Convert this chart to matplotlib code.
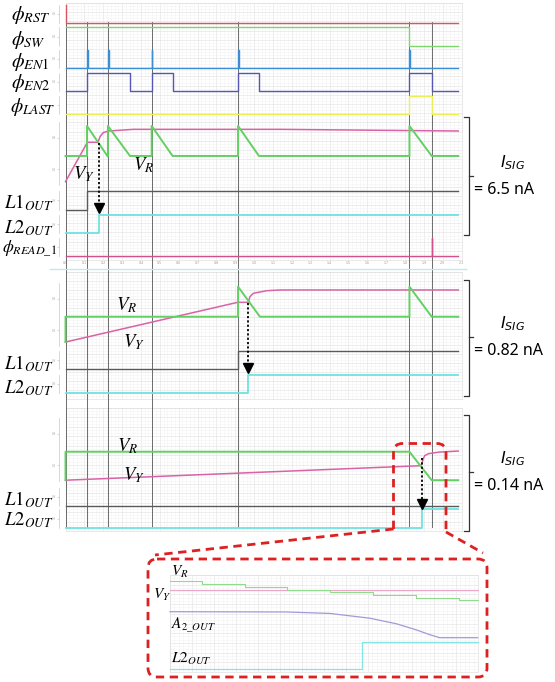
import numpy as np
import matplotlib
matplotlib.use("Agg")
import matplotlib.pyplot as plt
from matplotlib.patches import FancyBboxPatch, PathPatch
from matplotlib.path import Path

plt.rcParams['mathtext.fontset'] = 'stix'

W, H = 555, 682

# simulator time axis (us)
T_MAX = 2.1
T_END = 2.083
VDD = 1.8
CURSOR_T = [0.0, 0.114, 0.225, 0.457, 0.915, 1.824, 1.942]

# control signals as (rise, fall) pairs
RST_PULSES = [(0.0, 0.004)]
SW_PULSES = [(0.0, 1.824)]
EN1_PULSES = [(0.114, 0.118), (0.225, 0.229), (0.457, 0.461), (0.915, 0.919), (1.824, 1.828)]
EN2_PULSES = [(0.114, 0.342), (0.457, 0.568), (0.915, 1.026), (1.824, 1.942)]
LAST_PULSES = [(1.824, 1.942)]
READ_PULSES = [(1.942, 1.946)]

# case 1 : I_SIG = 6.5 nA
P1_VR_T = [0, 0.114, 0.114, 0.225, 0.225, 0.342, 0.457, 0.457, 0.568, 0.915, 0.915, 1.026, 1.824, 1.824, 1.942, T_END]
P1_VR_V = [0.57, 0.57, 0.95, 0.56, 0.95, 0.57, 0.57, 0.95, 0.57, 0.57, 0.95, 0.57, 0.57, 0.95, 0.57, 0.57]
P1_VY_T = [0, 0.116, 0.171, 0.178, 0.183, 0.2, 0.227, 0.36, 1.137, T_END]
P1_VY_V = [0.245, 0.743, 0.743, 0.78, 0.814, 0.865, 0.886, 0.907, 0.907, 0.886]
P1_L1_RISE = 0.114
P1_L2_RISE = 0.176

# case 2 : I_SIG = 0.82 nA
P2_VR_T = [0, 0, 0.915, 0.915, 1.031, 1.824, 1.824, 1.942, T_END]
P2_VR_V = [0.25, 0.57, 0.57, 0.95, 0.57, 0.57, 0.95, 0.57, 0.57]
P2_VY_T = [0, 0.913, 0.969, 0.978, 0.996, 1.067, 1.137, T_END]
P2_VY_V = [0.25, 0.752, 0.752, 0.823, 0.866, 0.899, 0.908, 0.908]
P2_L1_RISE = 0.915
P2_L2_RISE = 0.968

# case 3 : I_SIG = 0.14 nA
P3_VR_T = [0, 0, 1.824, 1.942, T_END]
P3_VR_V = [0.21, 0.57, 0.57, 0.21, 0.21]
P3_VY_T = [0, 1.880, 1.889, 1.897, 1.905, 1.924, 1.98, T_END]
P3_VY_V = [0.21, 0.393, 0.41, 0.48, 0.52, 0.545, 0.565, 0.579]
P3_L1_RISE = None
P3_L2_RISE = 1.889

# zoomed view of case 3 (arbitrary time units)
Z_END = 7.14
Z_VR_STEPS = [0.74, 1.74, 2.72, 3.72, 4.71, 5.72, 6.72]
Z_VR_LEVELS = [0.608, 0.602, 0.597, 0.591, 0.587, 0.581, 0.575, 0.570]
Z_VY = 0.59
Z_A2_T = [0, 2.7, 3.71, 4.64, 5.26, 5.72, 6.03, 6.26, Z_END]
Z_A2_V = [1.2, 1.197, 1.18, 1.125, 1.06, 0.99, 0.935, 0.90, 0.90]
Z_L2_RISE = 4.45

C_RST = '#d9545f'
C_SW = '#7cd66c'
C_EN1 = '#3b8ed4'
C_EN2 = '#5656b4'
C_LAST = '#eeee55'
C_VR = '#62d062'
C_VY = '#da62a6'
C_L1 = '#5a5a5a'
C_L2 = '#6fe2e2'
C_READ = '#d4508c'
C_A2 = '#a29ad8'
C_RED = '#dd2020'

X0, X1 = 65.5, 461.5

fig = plt.figure(figsize=(W / 100, H / 100), dpi=100)


def px_axes(left, top, right, bottom, z=2):
    ax = fig.add_axes([left / W, 1 - bottom / H, (right - left) / W, (bottom - top) / H], zorder=z)
    ax.set_facecolor('none')
    return ax


def step_wave(pulses, t_end=T_END):
    t, v = [], []
    for r, f in pulses:
        t += [r, r, f, f]
        v += [0, VDD, VDD, 0]
    if t[0] == 0:
        # signal already high at t=0, no rising edge drawn
        t, v = t[1:], v[1:]
    else:
        t, v = [0.0] + t, [0.0] + v
    t.append(t_end)
    v.append(0)
    return t, v


def rise_wave(rise, t_end=T_END):
    if rise is None:
        return [0, t_end], [0, 0]
    return [0, rise, rise, t_end], [0, 0, VDD, VDD]


def trace_axes(top, bottom, lo, hi, ticks, xlim=(0, T_MAX), left=X0, right=X1, axis=True, ticklabels=True):
    ax = px_axes(left, top, right, bottom)
    ax.set_xlim(*xlim)
    ax.set_ylim(lo, hi)
    for s in ['top', 'right', 'bottom']:
        ax.spines[s].set_visible(False)
    ax.set_xticks([])
    if axis:
        ax.spines['left'].set_position(('outward', 5))
        ax.spines['left'].set_color('#c8c8c8')
        ax.spines['left'].set_linewidth(0.5)
        ax.set_yticks(ticks)
        ax.set_yticklabels([f'{v:.1f}' if ticklabels else '' for v in ticks])
        ax.tick_params(axis='y', labelsize=2.0, labelcolor='#aaaaaa', length=1.2,
                       width=0.4, color='#bbbbbb', pad=0.3)
    else:
        ax.spines['left'].set_visible(False)
        ax.set_yticks([])
    return ax


def panel_bg(top, bottom, left=X0, right=X1, xlim=(0, T_MAX), labels=False, nx=21):
    ax = px_axes(left, top, right, bottom, z=0)
    ax.set_xlim(*xlim)
    ax.set_ylim(0, 1)
    ax.set_xticks(np.linspace(xlim[0], xlim[1], nx + 1))
    ax.set_xticks(np.linspace(xlim[0], xlim[1], nx * 5 + 1), minor=True)
    nrows = int((bottom - top) / 9)
    ax.set_yticks(np.linspace(0, 1, nrows + 1))
    ax.set_yticks(np.linspace(0, 1, nrows * 3 + 1), minor=True)
    ax.grid(which='major', color='#e6e6e6', lw=0.5)
    ax.grid(which='minor', color='#f4f4f4', lw=0.4)
    ax.set_yticklabels([])
    ax.tick_params(which='both', length=0)
    if labels:
        ax.set_xticklabels([f'{v:.1f}' for v in np.linspace(xlim[0], xlim[1], nx + 1)])
        ax.tick_params(axis='x', labelsize=2.3, labelcolor='#999999', pad=1)
    else:
        ax.set_xticklabels([])
    for s in ax.spines.values():
        s.set_color('#e0e0e0')
        s.set_linewidth(0.5)
    return ax


# panel backgrounds
panel_bg(3, 260, labels=True)
panel_bg(272, 399)
panel_bg(408, 531)
panel_bg(575, 672, left=170, right=478, xlim=(0, 7.15), nx=14)

# cursors
cur = px_axes(X0, 22, X1, 528, z=1)
cur.set_xlim(0, T_MAX)
cur.set_ylim(0, 1)
cur.axis('off')
for t in CURSOR_T:
    cur.axvline(t, color='#555555', lw=0.6)

dig = [VDD / 2]
ana = [0.4, 0.8]

# ---- case 1
for pulses, color, top, bottom, tl in [(RST_PULSES, C_RST, 5, 22.7, True), (SW_PULSES, C_SW, 27.3, 45.7, True),
                                       (EN1_PULSES, C_EN1, 50, 68, True), (EN2_PULSES, C_EN2, 72.7, 90.7, True),
                                       (LAST_PULSES, C_LAST, 96, 114.3, False),
                                       (READ_PULSES, C_READ, 237.7, 255.7, False)]:
    ax = trace_axes(top, bottom, 0, VDD, dig, ticklabels=tl)
    ax.plot(*step_wave(pulses), color=color, lw=1.0, clip_on=False)

ax = trace_axes(122, 185.2, 0.2, 1.0, ana)
ax.plot(P1_VY_T, P1_VY_V, color=C_VY, lw=1.1, clip_on=False)
ax.plot(P1_VR_T, P1_VR_V, color=C_VR, lw=1.4, clip_on=False)
ax = trace_axes(191, 210, 0, VDD, dig)
ax.plot(*rise_wave(P1_L1_RISE), color=C_L1, lw=1.0, clip_on=False)
ax = trace_axes(215, 233.3, 0, VDD, dig)
ax.plot(*rise_wave(P1_L2_RISE), color=C_L2, lw=1.3, clip_on=False)

# ---- case 2
ax = trace_axes(282.7, 346, 0.2, 1.0, ana)
ax.plot(P2_VY_T, P2_VY_V, color=C_VY, lw=1.1, clip_on=False)
ax.plot(P2_VR_T, P2_VR_V, color=C_VR, lw=1.4, clip_on=False)
ax = trace_axes(351, 369.3, 0, VDD, dig)
ax.plot(*rise_wave(P2_L1_RISE), color=C_L1, lw=1.0, clip_on=False)
ax = trace_axes(375, 392.7, 0, VDD, dig)
ax.plot(*rise_wave(P2_L2_RISE), color=C_L2, lw=1.3, clip_on=False)

# ---- case 3
ax = trace_axes(417.7, 481, 0.2, 1.0, ana)
ax.plot(P3_VY_T, P3_VY_V, color=C_VY, lw=1.1, clip_on=False)
ax.plot(P3_VR_T, P3_VR_V, color=C_VR, lw=1.4, clip_on=False)
ax = trace_axes(488, 506, 0, VDD, dig)
ax.plot(*rise_wave(P3_L1_RISE), color=C_L1, lw=1.0, clip_on=False)
ax = trace_axes(509.3, 527.7, 0, VDD, dig)
ax.plot(*rise_wave(P3_L2_RISE), color=C_L2, lw=1.3, clip_on=False)

# ---- zoomed view
zx = dict(xlim=(0, 7.15), left=170, right=478, axis=False)
ax = trace_axes(575, 605, 0.56, 0.62, [], **zx)
zt = [0]
zv = [Z_VR_LEVELS[0]]
for t, a, b in zip(Z_VR_STEPS, Z_VR_LEVELS[:-1], Z_VR_LEVELS[1:]):
    zt += [t, t]
    zv += [a, b]
zt.append(Z_END)
zv.append(Z_VR_LEVELS[-1])
ax.plot([0, Z_END], [Z_VY, Z_VY], color='#eaa6c6', lw=0.8, clip_on=False)
ax.plot(zt, zv, color='#8fdc8f', lw=0.8, clip_on=False)
ax = trace_axes(611.7, 637.7, 0.9, 1.2, [], **zx)
ax.plot(Z_A2_T, Z_A2_V, color=C_A2, lw=0.9, clip_on=False)
ax = trace_axes(642.3, 669.3, 0, VDD, [], **zx)
ax.plot(*rise_wave(Z_L2_RISE, Z_END), color='#86e4e4', lw=0.9, clip_on=False)

# ---- annotations (pixel overlay)
ov = fig.add_axes([0, 0, 1, 1], zorder=5)
ov.set_xlim(0, W)
ov.set_ylim(H, 0)
ov.axis('off')
ov.set_facecolor('none')


def tx(t):
    return X0 + t * (X1 - X0) / T_MAX


ov.plot([50, 466], [269, 269], color='#bfe9ef', lw=1.0)

lab = dict(fontsize=14.5, va='center', ha='left', color='black')
for s, y in [(r'$\phi_{RST}$', 15), (r'$\phi_{SW}$', 40), (r'$\phi_{EN1}$', 62),
             (r'$\phi_{EN2}$', 83)]:
    ov.text(11, y, s, **lab)
ov.text(10, 107, r'$\phi_{LAST}$', fontsize=14, va='center', ha='left')
lab['fontsize'] = 13.5
for s, y in [(r'$\mathit{L1}_{OUT}$', 203), (r'$\mathit{L2}_{OUT}$', 228),
             (r'$\mathit{L1}_{OUT}$', 364), (r'$\mathit{L2}_{OUT}$', 388),
             (r'$\mathit{L1}_{OUT}$', 500), (r'$\mathit{L2}_{OUT}$', 520)]:
    ov.text(4, y, s, **lab)
ov.text(2, 249, r'$\phi_{READ\_1}$', fontsize=12.5, va='center', ha='left')

vlab = dict(fontsize=13.5, va='center', ha='center')
for s, x, y in [(r'$V_Y$', 84, 174), (r'$V_R$', 144, 165), (r'$V_R$', 127, 305), (r'$V_Y$', 134, 342),
                (r'$V_R$', 128, 446), (r'$V_Y$', 134, 475)]:
    ov.text(x, y, s, **vlab)

zlab = dict(fontsize=11, va='center', ha='left')
ov.text(171, 572, r'$V_R$', **zlab)
ov.text(153, 595, r'$V_Y$', **zlab)
ov.text(171, 625, r'$A_{2\_OUT}$', **zlab)
ov.text(171, 659, r'$\mathit{L2}_{OUT}$', **zlab)

# dotted arrows from the crossing to L2 rising edge
for t, y0, y1 in [(P1_L2_RISE, 143, 212), (P2_L2_RISE, 303, 372), (P3_L2_RISE, 458, 508)]:
    x = tx(t)
    ov.plot([x, x], [y0, y1 - 6], color='black', lw=1.3, ls=(0, (1.2, 1.2)))
    ov.plot([x], [y1 - 4], marker='v', ms=6.5, color='black', mec='black')

# brackets + current labels
for top, bottom, mid, cur_txt in [(117, 235, 176, '= 6.5 nA'), (280, 396, 337, '= 0.82 nA'),
                                  (415, 531, 472, '= 0.14 nA')]:
    ov.plot([464, 469, 469, 464], [top, top, bottom, bottom], color='#333333', lw=0.9)
    ov.plot([469, 473], [mid, mid], color='#333333', lw=0.9)
    ov.text(513, mid - 4, r'$I_{SIG}$', fontsize=11.5, ha='center', va='bottom',
            math_fontfamily='dejavusans')
    ov.text(474, mid + 14, cur_txt, fontsize=11.5, ha='left', va='center', family='Noto Sans')

# red dashed zoom box
dash = dict(color=C_RED, lw=2.0, ls=(0, (3, 2)))
r = 9
verts = [(393.5, 529), (393.5, 443.5 + r), (393.5, 443.5), (393.5 + r, 443.5),
         (446 - r, 443.5), (446, 443.5), (446, 443.5 + r), (446, 532)]
codes = [Path.MOVETO, Path.LINETO, Path.CURVE3, Path.CURVE3, Path.LINETO, Path.CURVE3, Path.CURVE3, Path.LINETO]
ov.add_patch(PathPatch(Path(verts, codes), fill=False, ec=C_RED, lw=2.0, ls=(0, (3, 2))))
ov.plot([393.5, 155], [529, 555], **dash)
ov.plot([446, 483], [532, 553], **dash)
ov.add_patch(FancyBboxPatch((148, 559), 339, 118, boxstyle='round,pad=0,rounding_size=9',
                            fill=False, ec=C_RED, lw=2.0, ls=(0, (3, 2))))

fig.savefig('out.png', dpi=100)
